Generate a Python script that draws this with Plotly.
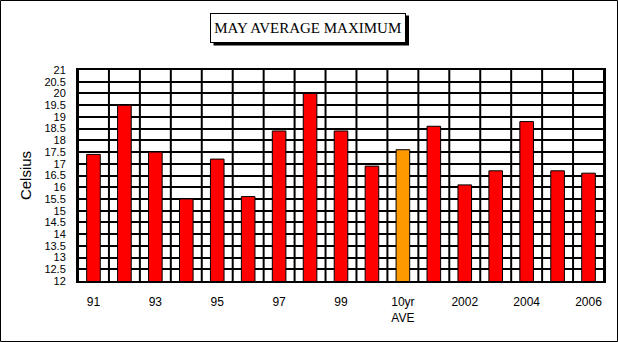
import plotly.graph_objects as go

categories = ["91", "92", "93", "94", "95", "96", "97", "98", "99", "2000",
              "10yr AVE", "2001", "2002", "2003", "2004", "2005", "2006"]
values = [17.4, 19.5, 17.5, 15.5, 17.2, 15.6, 18.4, 20.0, 18.4, 16.9,
          17.6, 18.6, 16.1, 16.7, 18.8, 16.7, 16.6]
tick_labels = ["91", "", "93", "", "95", "", "97", "", "99", "",
               "10yr<br>AVE", "", "2002", "", "2004", "", "2006"]
highlight = "10yr AVE"

W, H = 618, 342
ML, MR, MT, MB = 78, 14, 70, 61
PW, PH = W - ML - MR, H - MT - MB


def px_x(p):
    return (p - ML) / PW


def px_y(p):
    return 1 + (MT - p) / PH


idx = list(range(len(categories)))
colors = ["#FF9900" if c == highlight else "#FF0000" for c in categories]

fig = go.Figure(go.Bar(
    x=idx, y=values, width=0.44,
    marker=dict(color=colors, line=dict(color="black", width=1)),
    customdata=categories, hovertemplate="%{customdata}: %{y}<extra></extra>",
))

shapes = []
for k in range(len(categories) + 1):
    xv = k - 0.5
    shapes.append(dict(type="line", xref="x", yref="paper", x0=xv, x1=xv, y0=0, y1=1,
                       line=dict(color="black", width=2), layer="below"))
# outer figure border
shapes.append(dict(type="rect", xref="paper", yref="paper",
                   x0=px_x(0.5), x1=px_x(W - 0.5), y0=px_y(H - 0.5), y1=px_y(0.5),
                   line=dict(color="black", width=1), fillcolor="rgba(0,0,0,0)", layer="above"))
# title box shadow
bx0, bx1, by0, by1 = 210.5, 406, 12.5, 42.5
shapes.append(dict(type="rect", xref="paper", yref="paper",
                   x0=px_x(bx0 + 3), x1=px_x(bx1 + 3), y0=px_y(by1 + 3), y1=px_y(by0 + 3),
                   line=dict(color="black", width=0), fillcolor="black", layer="above"))

title_text = "MAY AVERAGE MAXIMUM"
font_t = dict(family="Liberation Serif, Times New Roman, serif", size=15, color="black")
annotations = [
    dict(text=title_text, xref="paper", yref="paper",
         x=px_x((bx0 + bx1) / 2), y=px_y((by0 + by1) / 2),
         xanchor="center", yanchor="middle",
         showarrow=False, width=bx1 - bx0 - 4, height=by1 - by0 - 4, bgcolor="white",
         bordercolor="black", borderwidth=1, borderpad=1, font=font_t),
]

fig.update_layout(
    width=W, height=H, margin=dict(l=ML, r=MR, t=MT, b=MB),
    paper_bgcolor="white", plot_bgcolor="white", showlegend=False,
    shapes=shapes, annotations=annotations,
    font=dict(family="Liberation Sans, Arial, sans-serif", color="black"),
    xaxis=dict(range=[-0.5, len(categories) - 0.5], tickmode="array", tickvals=idx,
               ticktext=tick_labels, showgrid=False, zeroline=False,
               ticks="outside", ticklen=9, tickcolor="rgba(0,0,0,0)",
               tickfont=dict(size=12), showline=True, linecolor="black", linewidth=2,
               mirror=True),
    yaxis=dict(range=[12, 21], tickmode="linear", tick0=12, dtick=0.5,
               showgrid=True, gridcolor="black", gridwidth=2, zeroline=False,
               ticks="outside", ticklen=8, tickcolor="rgba(0,0,0,0)",
               tickfont=dict(size=11), showline=True, linecolor="black", linewidth=2,
               mirror=True,
               title=dict(text="Celsius", font=dict(size=15), standoff=9)),
)

fig.write_html("out.html")
